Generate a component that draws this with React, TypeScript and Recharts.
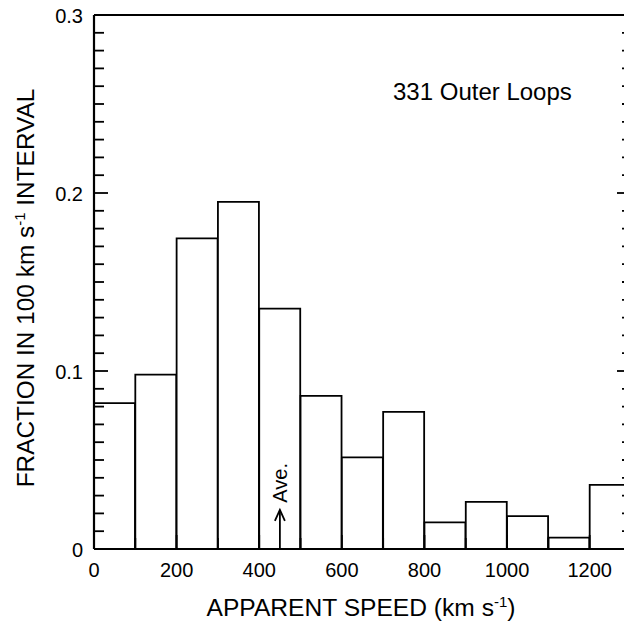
import React from 'react';
import { BarChart, Bar, XAxis, YAxis, ReferenceLine, ReferenceDot } from 'recharts';

const binStarts = [0, 100, 200, 300, 400, 500, 600, 700, 800, 900, 1000, 1100, 1200];
const binWidth = 100;
const fractions = [0.082, 0.098, 0.1745, 0.195, 0.135, 0.086, 0.0515, 0.077, 0.015, 0.0265, 0.0185, 0.0064, 0.036];
const xTicks = [0, 100, 200, 300, 400, 500, 600, 700, 800, 900, 1000, 1100, 1200, 1300];
const xTickLabels = [0, 200, 400, 600, 800, 1000, 1200];
const yTicks = [0, 0.01, 0.02, 0.03, 0.04, 0.05, 0.06, 0.07, 0.08, 0.09, 0.1, 0.11, 0.12, 0.13, 0.14, 0.15, 0.16, 0.17, 0.18, 0.19, 0.2, 0.21, 0.22, 0.23, 0.24, 0.25, 0.26, 0.27, 0.28, 0.29, 0.3];
const yTickLabels = [0, 0.1, 0.2, 0.3];
const averageSpeed = 450;
const arrowTop = 0.022;
const annotation = '331 Outer Loops';

const data = binStarts.map((b, i) => ({ center: b + binWidth / 2, fraction: fractions[i] }));

const FONT = 'Liberation Sans, Arial, Helvetica, sans-serif';

const isMajorY = (v: number) => yTickLabels.some((t) => Math.abs(t - v) < 1e-9);
const isMajorX = (v: number) => xTickLabels.includes(v);

const LeftTick = (props: any) => {
  const { x, y, payload } = props;
  const major = isMajorY(payload.value);
  return (
    <g>
      <line x1={x} y1={y} x2={x + (major ? 14 : 10)} y2={y} stroke="#000" strokeWidth={1.8} />
      {major && (
        <text x={x - 11} y={y} dy={8} textAnchor="end" fontSize={20} fontFamily={FONT} fill="#000">
          {payload.value === 0 ? '0' : payload.value.toFixed(1)}
        </text>
      )}
    </g>
  );
};

const RightTick = (props: any) => {
  const { x, y, payload } = props;
  const major = isMajorY(payload.value);
  return <line x1={x} y1={y} x2={x - (major ? 14 : 9)} y2={y} stroke="#000" strokeWidth={1.8} />;
};

const BottomTick = (props: any) => {
  const { x, y, payload } = props;
  const major = isMajorX(payload.value);
  return (
    <g>
      <line x1={x} y1={y} x2={x} y2={y - (major ? 14 : 11)} stroke="#000" strokeWidth={1.8} />
      {major && (
        <text x={x} y={y + 28} textAnchor="middle" fontSize={20} fontFamily={FONT} fill="#000">
          {payload.value}
        </text>
      )}
    </g>
  );
};

const TopTick = (props: any) => {
  const { x, y, payload } = props;
  const major = isMajorX(payload.value);
  return <line x1={x} y1={y} x2={x} y2={y + (major ? 14 : 11)} stroke="#000" strokeWidth={1.8} />;
};

const ArrowHead = (props: any) => {
  const { cx, cy } = props;
  return (
    <g>
      <polyline points={`${cx - 5},${cy + 11} ${cx},${cy} ${cx + 5},${cy + 11}`} fill="none" stroke="#000" strokeWidth={1.8} />
      <text
        x={cx + 7}
        y={cy - 27}
        transform={`rotate(-90, ${cx + 7}, ${cy - 27})`}
        textAnchor="middle"
        fontSize={20}
        fontFamily={FONT}
        fill="#000"
      >
        Ave.
      </text>
    </g>
  );
};

const axisLine = { stroke: '#000', strokeWidth: 2.2 };

export default function App() {
  return (
    <div style={{ width: 624, height: 614 }}>
      <BarChart
        width={624}
        height={614}
        data={data}
        margin={{ top: 6, right: 0, bottom: 0, left: 0 }}
        barCategoryGap={0}
        barGap={0}
      >
        <XAxis
          xAxisId="num"
          dataKey="center"
          type="number"
          orientation="bottom"
          domain={[0, 1300]}
          ticks={xTicks}
          allowDataOverflow
          height={73}
          tickSize={0}
          tickMargin={0}
          tickLine={false}
          axisLine={axisLine}
          tick={<BottomTick />}
          interval={0}
        />
        <XAxis
          xAxisId="top"
          type="number"
          orientation="top"
          domain={[0, 1300]}
          ticks={xTicks}
          allowDataOverflow
          height={1}
          tickSize={0}
          tickMargin={0}
          tickLine={false}
          axisLine={axisLine}
          tick={<TopTick />}
          interval={0}
        />
        <YAxis
          yAxisId="left"
          orientation="left"
          domain={[0, 0.3]}
          ticks={yTicks}
          allowDataOverflow
          width={86}
          tickSize={0}
          tickMargin={0}
          tickLine={false}
          axisLine={axisLine}
          tick={<LeftTick />}
          interval={0}
        />
        <YAxis
          yAxisId="right"
          orientation="right"
          domain={[0, 0.3]}
          ticks={yTicks}
          allowDataOverflow
          width={1}
          tickSize={0}
          tickMargin={0}
          tickLine={false}
          axisLine={axisLine}
          tick={<RightTick />}
          interval={0}
        />
        <Bar
          xAxisId="num"
          yAxisId="left"
          dataKey="fraction"
          fill="#fff"
          stroke="#000"
          strokeWidth={1.8}
          isAnimationActive={false}
        />
        <ReferenceLine
          xAxisId="num"
          yAxisId="left"
          segment={[
            { x: averageSpeed, y: 0 },
            { x: averageSpeed, y: arrowTop },
          ]}
          stroke="#000"
          strokeWidth={1.8}
        />
        <ReferenceDot
          xAxisId="num"
          yAxisId="left"
          x={averageSpeed}
          y={arrowTop}
          r={0}
          shape={<ArrowHead />}
        />
        <text x={385} y={92} fontSize={24} fontFamily={FONT} fill="#000">
          {annotation}
        </text>
        <text x={353} y={608} textAnchor="middle" fontSize={24.6} fontFamily={FONT} fill="#000">
          APPARENT SPEED (km s<tspan dy={-9} fontSize={15}>-1</tspan>
          <tspan dy={9}>)</tspan>
        </text>
        <text
          x={26}
          y={280}
          transform="rotate(-90, 26, 280)"
          textAnchor="middle"
          fontSize={24.4}
          fontFamily={FONT}
          fill="#000"
        >
          FRACTION IN 100 km s<tspan dy={-9} fontSize={15}>-1</tspan>
          <tspan dy={9}> INTERVAL</tspan>
        </text>
      </BarChart>
    </div>
  );
}
